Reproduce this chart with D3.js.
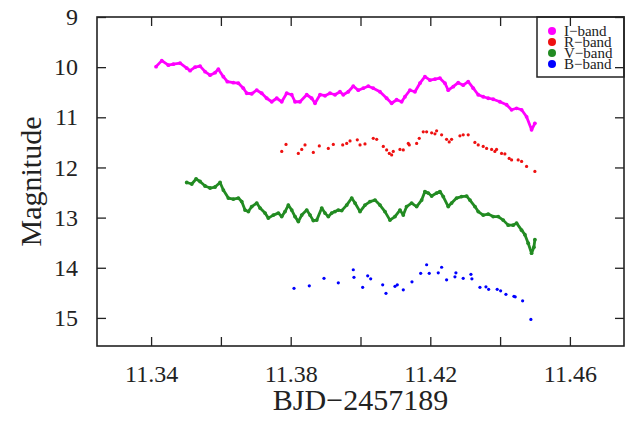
<!DOCTYPE html>
<html>
<head>
<meta charset="utf-8">
<script src="https://cdn.jsdelivr.net/npm/d3@7"></script>
<style>
body { margin: 0; background: #fff; }
text { font-family: "Liberation Serif", "Times New Roman", serif; fill: #222; }
</style>
</head>
<body>
<div id="chart"></div>
<script>
// ---- data (BJD-2457189, magnitude) ----
var iTime = [11.34143, 11.34306, 11.34495, 11.34639, 11.3483, 11.35022, 11.35117, 11.3526, 11.35403, 11.35546,
    11.35689, 11.35833, 11.35927, 11.3607, 11.36185, 11.36357, 11.365, 11.36643, 11.36741, 11.36884,
    11.37027, 11.3717, 11.37313, 11.37456, 11.376, 11.37743, 11.37886, 11.38029, 11.38124, 11.38267,
    11.38459, 11.38602, 11.38697, 11.3884, 11.38983, 11.39126, 11.39269, 11.39412, 11.39507, 11.3965,
    11.39793, 11.39936, 11.4008, 11.40223, 11.40366, 11.40558, 11.4075, 11.40893, 11.41036, 11.41179,
    11.41274, 11.41417, 11.4156, 11.41703, 11.41846, 11.4199, 11.42133, 11.42276, 11.42419, 11.42514,
    11.42657, 11.428, 11.42943, 11.43086, 11.4323, 11.43373, 11.43516, 11.43659, 11.43802, 11.43994,
    11.44186, 11.44329, 11.44472, 11.44616, 11.44759, 11.44902, 11.44997];
var iMag = [9.99, 9.87, 9.96, 9.94, 9.92, 10.02, 10.07, 10.00, 9.98, 10.09,
    10.16, 10.11, 10.04, 10.19, 10.29, 10.31, 10.32, 10.42, 10.52, 10.53,
    10.46, 10.52, 10.62, 10.69, 10.62, 10.69, 10.52, 10.55, 10.69, 10.69,
    10.55, 10.62, 10.72, 10.55, 10.57, 10.52, 10.55, 10.49, 10.55, 10.49,
    10.38, 10.46, 10.42, 10.38, 10.42, 10.49, 10.62, 10.72, 10.65, 10.69,
    10.59, 10.46, 10.49, 10.32, 10.19, 10.26, 10.24, 10.22, 10.32, 10.46,
    10.39, 10.31, 10.36, 10.29, 10.42, 10.55, 10.59, 10.62, 10.64, 10.69,
    10.75, 10.85, 10.82, 10.85, 10.99, 11.25, 11.12];

var rTime = [11.37743, 11.37866, 11.38219, 11.38316, 11.3841, 11.38648, 11.3882, 11.39078, 11.39221, 11.3949,
    11.39605, 11.397, 11.39908, 11.39986, 11.40129, 11.40366, 11.40464, 11.40653, 11.4075, 11.40825,
    11.40893, 11.40939, 11.41131, 11.41226, 11.41369, 11.41398, 11.41609, 11.41684, 11.41798, 11.41895,
    11.42038, 11.42133, 11.42181, 11.42324, 11.42467, 11.42542, 11.4261, 11.42849, 11.42943, 11.43086,
    11.43278, 11.43373, 11.43516, 11.43614, 11.43757, 11.43851, 11.43899, 11.44042, 11.44137, 11.4426,
    11.44329, 11.44518, 11.44616, 11.44759, 11.44997];
var rMag = [11.68, 11.54, 11.72, 11.64, 11.55, 11.70, 11.57, 11.62, 11.54, 11.55,
    11.52, 11.47, 11.45, 11.55, 11.53, 11.42, 11.44, 11.58, 11.65, 11.72,
    11.75, 11.68, 11.64, 11.65, 11.52, 11.55, 11.52, 11.42, 11.29, 11.29,
    11.31, 11.33, 11.27, 11.35, 11.44, 11.49, 11.44, 11.37, 11.35, 11.35,
    11.50, 11.55, 11.58, 11.62, 11.64, 11.68, 11.64, 11.72, 11.73, 11.82,
    11.85, 11.85, 11.88, 11.98, 12.08];

var vTime = [11.35022, 11.35165, 11.35289, 11.35403, 11.35546, 11.35689, 11.35833, 11.35976, 11.3607, 11.36214,
    11.36357, 11.365, 11.36597, 11.36692, 11.36787, 11.36884, 11.37027, 11.37122, 11.37265, 11.37359,
    11.37503, 11.37646, 11.37743, 11.37838, 11.37932, 11.38029, 11.38124, 11.38219, 11.38316, 11.38459,
    11.38554, 11.38648, 11.38746, 11.38889, 11.38983, 11.39078, 11.39175, 11.39269, 11.39364, 11.39461,
    11.39605, 11.39748, 11.39843, 11.39986, 11.40129, 11.40272, 11.40415, 11.40558, 11.40701, 11.40844,
    11.40987, 11.41131, 11.41226, 11.41321, 11.41465, 11.41609, 11.41752, 11.41846, 11.41941, 11.42038,
    11.42181, 11.42276, 11.42371, 11.42514, 11.4261, 11.42753, 11.42896, 11.43041, 11.43136, 11.43279,
    11.43373, 11.43516, 11.43659, 11.43802, 11.43946, 11.44089, 11.44232, 11.44375, 11.44472, 11.44616,
    11.44711, 11.44805, 11.44902, 11.44968, 11.44997];
var vMag = [12.30, 12.33, 12.23, 12.28, 12.37, 12.41, 12.39, 12.30, 12.45, 12.61,
    12.63, 12.61, 12.68, 12.85, 12.88, 12.78, 12.71, 12.81, 12.91, 13.01,
    12.95, 12.91, 12.98, 12.88, 12.75, 12.85, 12.98, 13.08, 12.95, 12.85,
    12.95, 13.06, 13.05, 12.81, 12.91, 12.98, 12.91, 12.88, 12.85, 12.86,
    12.75, 12.61, 12.71, 12.88, 12.75, 12.68, 12.65, 12.75, 12.88, 13.05,
    12.98, 12.85, 12.95, 12.78, 12.71, 12.78, 12.65, 12.48, 12.51, 12.57,
    12.51, 12.48, 12.58, 12.78, 12.71, 12.61, 12.58, 12.57, 12.65, 12.78,
    12.88, 12.95, 12.93, 12.98, 12.98, 13.05, 13.15, 13.15, 13.11, 13.25,
    13.34, 13.51, 13.71, 13.59, 13.44];

var bTime = [11.38095, 11.38533, 11.38954, 11.39364, 11.39793, 11.39813, 11.40062, 11.40206, 11.40292, 11.40636,
    11.4073, 11.40988, 11.41054, 11.41226, 11.41475, 11.41724, 11.41895, 11.4197, 11.42228, 11.42324,
    11.42467, 11.42706, 11.42734, 11.42943, 11.43164, 11.43192, 11.43422, 11.43594, 11.43671, 11.43917,
    11.44015, 11.44167, 11.44396, 11.44433, 11.44645, 11.44882];
var bMag = [14.41, 14.36, 14.21, 14.30, 14.04, 14.19, 14.39, 14.16, 14.22, 14.34,
    14.51, 14.37, 14.34, 14.44, 14.28, 14.11, 13.94, 14.11, 14.10, 13.99,
    14.24, 14.18, 14.10, 14.21, 14.13, 14.22, 14.39, 14.38, 14.43, 14.43,
    14.46, 14.53, 14.57, 14.58, 14.66, 15.03];

var bandNames = ["I\u2212band", "R\u2212band", "V\u2212band", "B\u2212band"];
var xTicks = [11.34, 11.36, 11.38, 11.40, 11.42, 11.44, 11.46];
var xLabels = [11.34, 11.38, 11.42, 11.46];
var yTicks = [9, 10, 11, 12, 13, 14, 15];

function init() {
    var margin = { top: 17, right: 11, bottom: 77, left: 97 },
    w = 635 - margin.left - margin.right,
    h = 423 - margin.top - margin.bottom;

    var color = {
        "I\u2212band": "#ff00ff",
        "R\u2212band": "#ee1111",
        "V\u2212band": "#228b22",
        "B\u2212band": "#0000ff"
    };

    var svg = d3.select("#chart")
        .append("svg")
            .attr("width", w + margin.left + margin.right)
            .attr("height", h + margin.top + margin.bottom)
        .append("g")
            .attr("transform", "translate(" + margin.left + "," + margin.top + ")");

    var xScale = d3.scaleLinear().domain([11.3245, 11.4755]).range([0, w]);
    var yScale = d3.scaleLinear().domain([9, 15.56]).range([0, h]);

    function pairs(t, m) {
        return t.map(function(d, i) { return { t: d, m: m[i] }; });
    }

    var series = [
        { key: bandNames[0], data: pairs(iTime, iMag), dense: true },
        { key: bandNames[1], data: pairs(rTime, rMag), dense: false },
        { key: bandNames[2], data: pairs(vTime, vMag), dense: true },
        { key: bandNames[3], data: pairs(bTime, bMag), dense: false }
    ];

    var line = d3.line()
        .x(function(d) { return xScale(d.t); })
        .y(function(d) { return yScale(d.m); });

    // dense bands look like a thick dotted trace
    series.forEach(function(s) {
        var g = svg.append("g").attr("class", "series");
        if (s.dense) {
            g.append("path")
                .attr("d", line(s.data))
                .attr("fill", "none")
                .attr("stroke", color[s.key])
                .attr("stroke-width", 2.8)
                .attr("stroke-linejoin", "round")
                .attr("stroke-linecap", "round");
        }
        g.selectAll("circle")
            .data(s.data)
            .enter()
            .append("circle")
                .attr("cx", function(d) { return xScale(d.t); })
                .attr("cy", function(d) { return yScale(d.m); })
                .attr("r", s.dense ? 1.9 : 1.6)
                .attr("fill", color[s.key]);
    });

    // legend box in the top right corner
    var legend = svg.append("g").attr("transform", "translate(" + (w - 87) + ",0)");
    legend.append("rect")
        .attr("width", 87).attr("height", 60)
        .attr("fill", "#fff").attr("stroke", "#222").attr("stroke-width", 1.5);
    bandNames.forEach(function(name, i) {
        legend.append("circle")
            .attr("cx", 15).attr("cy", 14 + i * 11)
            .attr("r", 4).attr("fill", color[name]);
        legend.append("text")
            .attr("x", 27).attr("y", 14 + i * 11 + 5)
            .style("font-size", "15px")
            .text(name);
    });

    // axes with inward ticks on all four sides
    var xAxis = d3.axisBottom(xScale)
        .tickValues(xTicks)
        .tickSize(-9).tickSizeOuter(0).tickPadding(19)
        .tickFormat(function(d) { return xLabels.indexOf(d) >= 0 ? d3.format(".2f")(d) : ""; });
    var gx = svg.append("g").attr("transform", "translate(0," + h + ")").call(xAxis);

    var gxTop = svg.append("g").call(d3.axisTop(xScale).tickValues(xTicks).tickSize(-9).tickSizeOuter(0).tickFormat(""));

    var yAxis = d3.axisLeft(yScale)
        .tickValues(yTicks)
        .tickSize(-9).tickSizeOuter(0).tickPadding(19)
        .tickFormat(d3.format("d"));
    var gy = svg.append("g").call(yAxis);

    var gyRight = svg.append("g").attr("transform", "translate(" + w + ",0)")
        .call(d3.axisRight(yScale).tickValues(yTicks).tickSize(-9).tickSizeOuter(0).tickFormat(""));

    [gx, gxTop, gy, gyRight].forEach(function(g) {
        g.select(".domain").remove();
        g.selectAll(".tick line").attr("stroke", "#222").attr("stroke-width", 1.3);
        g.selectAll("text")
            .attr("fill", "#222")
            .style("font-family", "'Liberation Serif', 'Times New Roman', serif")
            .style("font-size", "24px");
    });

    // frame
    svg.append("rect")
        .attr("width", w).attr("height", h)
        .attr("fill", "none").attr("stroke", "#222").attr("stroke-width", 1.6);

    // axis titles
    svg.append("text")
        .attr("x", w / 2).attr("y", h + 64)
        .attr("text-anchor", "middle")
        .style("font-size", "30px")
        .text("BJD\u22122457189");

    svg.append("text")
        .attr("transform", "translate(" + (-56) + "," + (h / 2) + ") rotate(-90)")
        .attr("text-anchor", "middle")
        .style("font-size", "30px")
        .text("Magnitude");
}

window.addEventListener("load", init);
</script>
</body>
</html>
